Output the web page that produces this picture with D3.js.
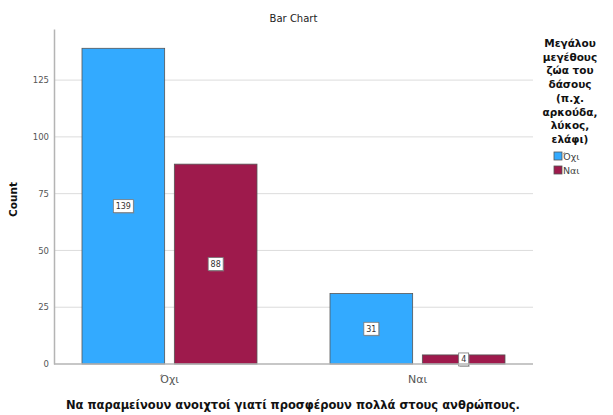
<!DOCTYPE html>
<html>
<head>
<meta charset="utf-8">
<script src="https://cdn.jsdelivr.net/npm/d3@7/dist/d3.min.js"></script>
<style>
  html, body { margin: 0; padding: 0; background: #fff; }
  svg { display: block; font-family: "DejaVu Sans", Verdana, sans-serif; }
</style>
</head>
<body>
<svg id="chart" width="613" height="415"></svg>
<script>
// ---- data ----
const categories = ["Όχι", "Ναι"];
const seriesNames = ["Όχι", "Ναι"];
const valuesOxi = [139, 31];   // series "Όχι"
const valuesNai = [88, 4];     // series "Ναι"
const yTicks = [0, 25, 50, 75, 100, 125];
const colors = ["#33aaff", "#9e1a4c"];
const chartTitle = "Bar Chart";
const yTitle = "Count";
const xTitle = "Να παραμείνουν ανοιχτοί γιατί προσφέρουν πολλά στους ανθρώπους.";
const legendTitle = ["Μεγάλου", "μεγέθους", "ζώα του", "δάσους", "(π.χ.", "αρκούδα,", "λύκος,", "ελάφι)"];

const series = [valuesOxi, valuesNai];
const FONT = "'DejaVu Sans', Verdana, sans-serif";

const svg = d3.select("#chart");
const pLeft = 54, pRight = 533, pTop = 29, pBottom = 364;

const x0 = d3.scaleBand().domain(categories).range([pLeft, pRight])
  .paddingInner(73 / 248).paddingOuter(28 / 248);
const x1 = d3.scaleBand().domain(seriesNames).range([0, x0.bandwidth()])
  .paddingInner(0.105).paddingOuter(0);
const y = d3.scaleLinear().domain([0, 147.5]).range([pBottom, pTop]);

// gridlines
svg.append("g").selectAll("line").data(yTicks.filter(d => d > 0)).join("line")
  .attr("x1", pLeft).attr("x2", pRight)
  .attr("y1", d => y(d)).attr("y2", d => y(d))
  .attr("stroke", "#dcdcdc").attr("stroke-width", 1);

// y axis
const yAxis = d3.axisLeft(y).tickValues(yTicks).tickSize(0).tickPadding(5);
const gy = svg.append("g").attr("transform", `translate(${pLeft},0)`).call(yAxis);
gy.select(".domain").attr("stroke", "#b4b4b4").attr("stroke-width", 1.5);
gy.selectAll("text").attr("font-size", 8.5).attr("fill", "#555").attr("font-family", FONT);

// bars
const groups = svg.append("g").selectAll("g").data(categories).join("g")
  .attr("transform", d => `translate(${x0(d)},0)`);
groups.selectAll("rect").data((c, i) => seriesNames.map((s, j) => ({ s, j, v: series[j][i] })))
  .join("rect")
  .attr("x", d => x1(d.s))
  .attr("width", x1.bandwidth())
  .attr("y", d => y(d.v))
  .attr("height", d => y(0) - y(d.v))
  .attr("fill", d => colors[d.j])
  .attr("stroke", "#555").attr("stroke-width", 0.8);

// x axis
const xAxis = d3.axisBottom(x0).tickSize(0).tickPadding(11);
const gx = svg.append("g").attr("transform", `translate(0,${pBottom})`).call(xAxis);
gx.select(".domain").attr("stroke", "#b4b4b4").attr("stroke-width", 1.5)
  .attr("d", `M${pLeft},0H${pRight}`);
gx.selectAll("text").attr("font-size", 11).attr("fill", "#555").attr("font-family", FONT);

// value labels
const labels = groups.selectAll("g.lab").data((c, i) => seriesNames.map((s, j) => ({ s, j, v: series[j][i] })))
  .join("g").attr("class", "lab")
  .attr("transform", d => `translate(${x1(d.s) + x1.bandwidth() / 2},${(y(d.v) + y(0)) / 2})`);
labels.each(function (d) {
  const g = d3.select(this);
  const txt = String(d.v);
  const w = txt.length * 5 + 5;
  g.append("rect").attr("x", -w / 2 + 1).attr("y", -6.5 + 1).attr("width", w).attr("height", 13)
    .attr("fill", "#888").attr("opacity", 0.5);
  g.append("rect").attr("x", -w / 2).attr("y", -6.5).attr("width", w).attr("height", 13)
    .attr("fill", "#fff").attr("stroke", "#777").attr("stroke-width", 0.8);
  g.append("text").attr("text-anchor", "middle").attr("dy", "0.35em")
    .attr("font-size", 8).attr("fill", "#333").text(txt);
});

// titles
svg.append("text").attr("x", (pLeft + pRight) / 2).attr("y", 22).attr("text-anchor", "middle")
  .attr("font-size", 10).attr("fill", "#222").text(chartTitle);
svg.append("text").attr("transform", `translate(17,${(pTop + pBottom) / 2 + 3}) rotate(-90)`)
  .attr("text-anchor", "middle").attr("font-size", 10.5).attr("font-weight", "bold")
  .attr("fill", "#111").text(yTitle);
svg.append("text").attr("x", 293).attr("y", 409).attr("text-anchor", "middle")
  .attr("font-size", 11.5).attr("font-weight", "bold").attr("fill", "#111").text(xTitle);

// legend
const lg = svg.append("g");
lg.selectAll("text.t").data(legendTitle).join("text").attr("class", "t")
  .attr("x", 570).attr("y", (d, i) => 47 + i * 13.7).attr("text-anchor", "middle")
  .attr("font-size", 10.5).attr("font-weight", "bold").attr("fill", "#111").text(d => d);
const li = lg.selectAll("g.item").data(seriesNames).join("g").attr("class", "item")
  .attr("transform", (d, i) => `translate(554,${152 + i * 14})`);
li.append("rect").attr("width", 8).attr("height", 8)
  .attr("fill", (d, i) => colors[i]).attr("stroke", "#555").attr("stroke-width", 0.8);
li.append("text").attr("x", 9).attr("y", 8).attr("font-size", 9.5).attr("fill", "#444").text(d => d);
</script>
</body>
</html>
